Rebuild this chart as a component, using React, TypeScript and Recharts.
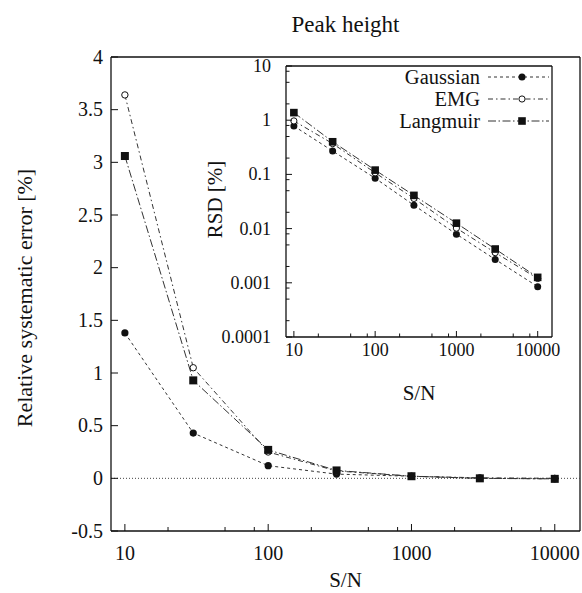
import React from "react";
import { LineChart, Line, XAxis, YAxis, ReferenceLine, Legend } from "recharts";

// signal-to-noise ratios used for every series
const snr = [10, 30, 100, 300, 1000, 3000, 10000];

// relative systematic error of the peak height [%]
const gaussianError = [1.38, 0.43, 0.12, 0.04, 0.02, 0.0, -0.005];
const emgError = [3.64, 1.05, 0.25, 0.07, 0.02, 0.005, 0.0];
const langmuirError = [3.06, 0.93, 0.27, 0.075, 0.02, 0.0, -0.005];

// relative standard deviation of the peak height [%]
const gaussianRsd = [0.78, 0.27, 0.085, 0.027, 0.0079, 0.0027, 0.00085];
const emgRsd = [0.97, 0.37, 0.107, 0.036, 0.0102, 0.0036, 0.0012];
const langmuirRsd = [1.38, 0.4, 0.12, 0.041, 0.0126, 0.0042, 0.00126];

// axis ticks
const snrMajorTicks = [10, 100, 1000, 10000];
const snrMinorTicks = [20, 50, 80, 200, 500, 800, 2000, 5000, 8000];
const errorTicks = [-0.5, 0, 0.5, 1, 1.5, 2, 2.5, 3, 3.5, 4];
const rsdMajorTicks = [0.0001, 0.001, 0.01, 0.1, 1, 10];
const rsdMinorTicks = [
  0.0002, 0.0005, 0.0008, 0.002, 0.005, 0.008, 0.02, 0.05, 0.08, 0.2, 0.5, 0.8, 2, 5, 8,
];

const snrDomain = [8, 15000];
const errorDomain = [-0.5, 4];
const rsdDomain = [0.0001, 10];

const FONT = "Liberation Serif, DejaVu Serif, serif";
const INK = "#111";
const LINE = "#333";
const txt: React.CSSProperties = { fontFamily: FONT };

const seriesStyles = [
  { key: "gaussian", name: "Gaussian", dash: "3 3", marker: "disc" },
  { key: "emg", name: "EMG", dash: "5 3 1.5 3", marker: "ring" },
  { key: "langmuir", name: "Langmuir", dash: "8 2.5 1.5 2.5", marker: "square" },
];

const errorData = snr.map((s, i) => ({
  snr: s,
  gaussian: gaussianError[i],
  emg: emgError[i],
  langmuir: langmuirError[i],
}));

const rsdData = snr.map((s, i) => ({
  snr: s,
  gaussian: gaussianRsd[i],
  emg: emgRsd[i],
  langmuir: langmuirRsd[i],
}));

const sortNum = (a: number[]) => [...a].sort((p, q) => p - q);

// marker shapes
const Marker = ({ kind, cx, cy, size }: { kind: string; cx: number; cy: number; size: number }) => {
  if (kind === "square") {
    return <rect x={cx - size} y={cy - size} width={size * 2} height={size * 2} fill={INK} />;
  }
  if (kind === "ring") {
    return <circle cx={cx} cy={cy} r={size - 0.4} fill="#fff" stroke={INK} strokeWidth={1} />;
  }
  return <circle cx={cx} cy={cy} r={size} fill={INK} />;
};

const makeDot = (kind: string, size: number) => (props: any) => {
  const { cx, cy, index } = props;
  if (cx == null || cy == null) return <g key={`d${index}`} />;
  return (
    <g key={`d${index}`}>
      <Marker kind={kind} cx={cx} cy={cy} size={size} />
    </g>
  );
};

// inward tick on a bottom axis, label only on the decades
const bottomTick = (majors: number[], fontSize: number, major: number, minor: number, labelDy: number) =>
  (props: any) => {
    const { x, y, payload } = props;
    const isMajor = majors.includes(payload.value);
    return (
      <g>
        <line x1={x} x2={x} y1={y} y2={y - (isMajor ? major : minor)} stroke={INK} strokeWidth={1} />
        {isMajor && (
          <text x={x} y={y + labelDy} textAnchor="middle" fontSize={fontSize} style={txt} fill={INK}>
            {payload.value}
          </text>
        )}
      </g>
    );
  };

// inward tick on a left axis
const leftTick = (majors: number[] | null, fontSize: number, major: number, minor: number, gap: number) =>
  (props: any) => {
    const { x, y, payload } = props;
    const isMajor = majors ? majors.includes(payload.value) : true;
    return (
      <g>
        <line x1={x} x2={x + (isMajor ? major : minor)} y1={y} y2={y} stroke={INK} strokeWidth={1} />
        {isMajor && (
          <text x={x - gap} y={y + fontSize * 0.33} textAnchor="end" fontSize={fontSize} style={txt} fill={INK}>
            {String(payload.value)}
          </text>
        )}
      </g>
    );
  };

const hTitle = (text: string, dy: number, fromBottom: boolean, fontSize: number) => (props: any) => {
  const vb = props.viewBox || {};
  const cx = vb.x + vb.width / 2;
  const y = fromBottom ? vb.y + vb.height + dy : vb.y + dy;
  return (
    <text x={cx} y={y} textAnchor="middle" fontSize={fontSize} style={txt} fill={INK}>
      {text}
    </text>
  );
};

const vTitle = (text: string, x: number, dy: number, fontSize: number) => (props: any) => {
  const vb = props.viewBox || {};
  const cy = vb.y + vb.height / 2 + dy;
  return (
    <text
      x={x}
      y={cy}
      transform={`rotate(-90 ${x} ${cy})`}
      textAnchor="middle"
      fontSize={fontSize}
      style={txt}
      fill={INK}
    >
      {text}
    </text>
  );
};

// legend rows: name, line sample and marker
const LegendBox = () => (
  <svg width={175} height={80} style={{ display: "block", overflow: "visible" }}>
    {seriesStyles.map((s, i) => {
      const y = 19 + i * 22;
      return (
        <g key={s.key}>
          <text x={100} y={y + 6.5} textAnchor="end" fontSize={20.5} style={txt} fill={INK}>
            {s.name}
          </text>
          <line x1={108} x2={169} y1={y} y2={y} stroke={LINE} strokeWidth={1} strokeDasharray={s.dash} />
          <Marker kind={s.marker} cx={142} cy={y} size={s.marker === "square" ? 3.8 : 3.5} />
        </g>
      );
    })}
  </svg>
);

const layer: React.CSSProperties = { position: "absolute", left: 0, top: 0 };
const frame = { stroke: INK, strokeWidth: 1.3 };

export default function App() {
  return (
    <div style={{ position: "absolute", left: 0, top: 0, width: 582, height: 593, background: "#fff", fontFamily: FONT }}>
      {/* main plot: systematic error */}
      <div style={layer}>
        <LineChart width={582} height={593} data={errorData} margin={{ top: 57, right: 2, bottom: 0, left: 0 }}>
          <XAxis
            dataKey="snr"
            type="number"
            scale="log"
            domain={snrDomain}
            allowDataOverflow
            ticks={sortNum([...snrMajorTicks, ...snrMinorTicks])}
            interval={0}
            height={62}
            tickSize={0}
            tickMargin={0}
            tick={bottomTick(snrMajorTicks, 20, 7, 4, 29)}
            axisLine={frame}
            label={hTitle("S/N", -6, true, 21)}
          />
          <YAxis
            type="number"
            domain={errorDomain}
            allowDataOverflow
            ticks={errorTicks}
            interval={0}
            width={111}
            tickSize={0}
            tickMargin={0}
            tick={leftTick(null, 20, 7, 7, 8)}
            axisLine={frame}
            label={vTitle("Relative systematic error [%]", 32, 4, 22)}
          />
          {/* top and right edges of the box, plus the title */}
          <ReferenceLine y={errorDomain[1]} {...frame} label={hTitle("Peak height", -25, false, 23)} />
          <ReferenceLine x={snrDomain[1]} {...frame} />
          <ReferenceLine y={0} stroke="#444" strokeWidth={1} strokeDasharray="1 2" />
          {seriesStyles.map((s) => (
            <Line
              key={s.key}
              dataKey={s.key}
              name={s.name}
              type="linear"
              stroke={LINE}
              strokeWidth={1}
              strokeDasharray={s.dash}
              dot={makeDot(s.marker, s.marker === "square" ? 4 : 3.6)}
              activeDot={false}
              isAnimationActive={false}
            />
          ))}
        </LineChart>
      </div>

      {/* inset: relative standard deviation, log-log */}
      <div style={layer}>
        <LineChart width={582} height={593} data={rsdData} margin={{ top: 66, right: 30, bottom: 0, left: 0 }}>
          <XAxis
            dataKey="snr"
            type="number"
            scale="log"
            domain={snrDomain}
            allowDataOverflow
            ticks={sortNum([...snrMajorTicks, ...snrMinorTicks])}
            interval={0}
            height={256}
            tickSize={0}
            tickMargin={0}
            tick={bottomTick(snrMajorTicks, 18, 6, 3.5, 19)}
            axisLine={frame}
            label={hTitle("S/N", -193, true, 21)}
          />
          <YAxis
            type="number"
            scale="log"
            domain={rsdDomain}
            allowDataOverflow
            ticks={sortNum([...rsdMajorTicks, ...rsdMinorTicks])}
            interval={0}
            width={286}
            tickSize={0}
            tickMargin={0}
            tick={leftTick(rsdMajorTicks, 18, 6, 3.5, 15)}
            axisLine={frame}
            label={vTitle("RSD [%]", 222, -2, 21)}
          />
          <ReferenceLine y={rsdDomain[1]} {...frame} />
          <ReferenceLine x={snrDomain[1]} {...frame} />
          <Legend
            layout="horizontal"
            verticalAlign="middle"
            align="center"
            wrapperStyle={{ left: 380, top: 58, width: 175, height: 80 }}
            content={() => <LegendBox />}
          />
          {seriesStyles.map((s) => (
            <Line
              key={s.key}
              dataKey={s.key}
              name={s.name}
              type="linear"
              stroke={LINE}
              strokeWidth={1}
              strokeDasharray={s.dash}
              dot={makeDot(s.marker, s.marker === "square" ? 3.8 : 3.5)}
              activeDot={false}
              isAnimationActive={false}
            />
          ))}
        </LineChart>
      </div>
    </div>
  );
}
